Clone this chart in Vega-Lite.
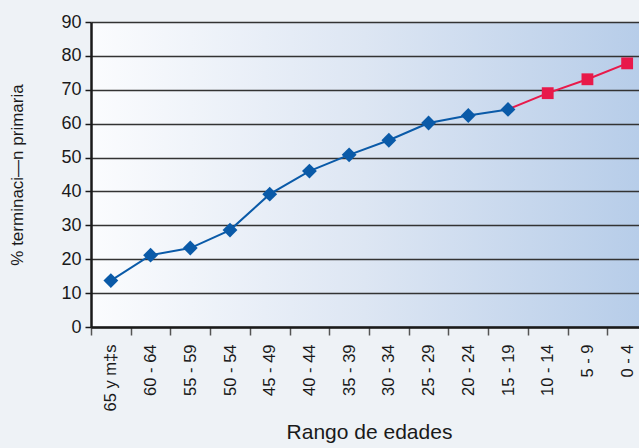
{
  "$schema": "https://vega.github.io/schema/vega-lite/v6.json",
  "autosize": "none",
  "width": 548,
  "height": 305,
  "padding": {"left": 91, "top": 22, "right": 0, "bottom": 121},
  "background": "#eef2f6",
  "config": {
    "font": "Liberation Sans",
    "view": {
      "stroke": null,
      "fill": {"gradient": "linear", "x1": 0, "y1": 0, "x2": 1, "y2": 0,
        "stops": [{"offset": 0, "color": "#fbfcfe"}, {"offset": 0.5, "color": "#dde6f3"}, {"offset": 1, "color": "#b7cde9"}]}
    }
  },
  "data": {
    "values": [
      {"edad": "65 y m‡s", "pct": 13.7, "serie": "Real"},
      {"edad": "60 - 64", "pct": 21.2, "serie": "Real"},
      {"edad": "55 - 59", "pct": 23.3, "serie": "Real"},
      {"edad": "50 - 54", "pct": 28.6, "serie": "Real"},
      {"edad": "45 - 49", "pct": 39.2, "serie": "Real"},
      {"edad": "40 - 44", "pct": 46.0, "serie": "Real"},
      {"edad": "35 - 39", "pct": 50.8, "serie": "Real"},
      {"edad": "30 - 34", "pct": 55.1, "serie": "Real"},
      {"edad": "25 - 29", "pct": 60.2, "serie": "Real"},
      {"edad": "20 - 24", "pct": 62.4, "serie": "Real"},
      {"edad": "15 - 19", "pct": 64.2, "serie": "Real"},
      {"edad": "15 - 19", "pct": 64.2, "serie": "Proyección"},
      {"edad": "10 - 14", "pct": 69.0, "serie": "Proyección"},
      {"edad": "5 - 9", "pct": 73.1, "serie": "Proyección"},
      {"edad": "0 - 4", "pct": 77.8, "serie": "Proyección"}
    ]
  },
  "encoding": {
    "x": {
      "field": "edad", "type": "nominal", "sort": null,
      "scale": {"range": [0, 556], "paddingInner": 0, "paddingOuter": 0},
      "axis": {
        "title": "Rango de edades", "titleFontSize": 21, "titleFontWeight": "normal", "titleColor": "#1a1a1a",
        "titleX": 278, "titlePadding": 11,
        "labelAngle": -90, "labelFontSize": 16.5, "labelColor": "#1a1a1a", "labelPadding": 9,
        "tickBand": "extent", "tickSize": 8, "tickColor": "#555555", "tickWidth": 1.5,
        "domainColor": "#1a1a1a", "domainWidth": 2.5, "grid": false
      }
    },
    "y": {
      "field": "pct", "type": "quantitative",
      "scale": {"domain": [0, 90], "nice": false},
      "axis": {
        "title": "% terminaci—n primaria", "titleFontSize": 17, "titleFontWeight": "normal", "titleColor": "#1a1a1a",
        "titlePadding": 34,
        "values": [0, 10, 20, 30, 40, 50, 60, 70, 80, 90],
        "labelFontSize": 18, "labelColor": "#1a1a1a", "labelPadding": 4,
        "tickSize": 6, "tickColor": "#1a1a1a", "tickWidth": 1.5,
        "domainColor": "#1a1a1a", "domainWidth": 2.5,
        "grid": true, "gridColor": "#333333", "gridWidth": 1.5
      }
    }
  },
  "layer": [
    {
      "mark": {"type": "line", "strokeWidth": 2},
      "encoding": {
        "color": {"field": "serie", "type": "nominal", "scale": {"domain": ["Real", "Proyección"], "range": ["#0a5aa8", "#e8194a"]}, "legend": null},
        "detail": {"field": "serie"}
      }
    },
    {
      "transform": [{"filter": "datum.serie == 'Real' || datum.edad != '15 - 19'"}],
      "mark": {"type": "point", "filled": true, "opacity": 1},
      "encoding": {
        "color": {"field": "serie", "type": "nominal", "scale": {"domain": ["Real", "Proyección"], "range": ["#0a5aa8", "#e8194a"]}, "legend": null},
        "shape": {"field": "serie", "type": "nominal", "scale": {"domain": ["Real", "Proyección"], "range": ["diamond", "square"]}, "legend": null},
        "size": {"field": "serie", "type": "nominal", "scale": {"domain": ["Real", "Proyección"], "range": [220, 140]}, "legend": null}
      }
    }
  ]
}
